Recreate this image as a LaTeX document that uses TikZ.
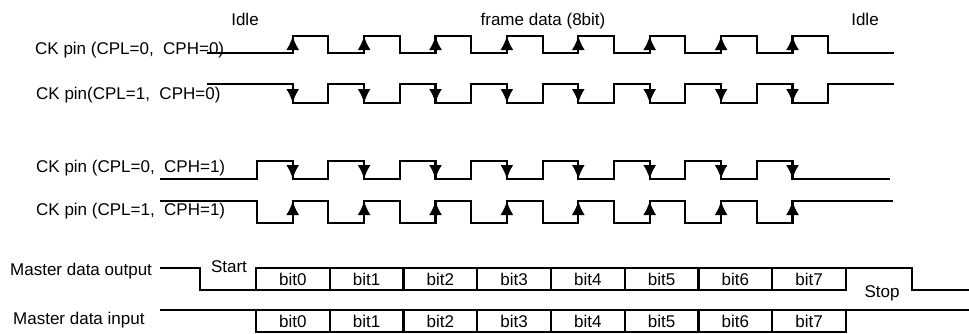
\documentclass[tikz,border=0pt]{standalone}
\usepackage{fontspec}
\setmainfont{Liberation Sans}
\usetikzlibrary{arrows.meta, math}

\tikzset{
  wave/.style={line width=2.1pt},
  edgearrow/.style={line width=2.1pt, -{Latex[length=14pt, width=13pt]}},
  bitbox/.style={draw, line width=2.1pt, minimum width=73.75pt, minimum height=22pt, inner sep=0pt, outer sep=0pt, anchor=north west},
  lbl/.style={inner sep=0pt, anchor=base west},
  ttl/.style={inner sep=0pt, anchor=base},
}

\begin{document}
\begin{tikzpicture}[x=1pt, y=-1pt, font=\fontsize{17}{20}\selectfont]
\tikzmath{
\h=35.7;
\ez=257;
\eo=\ez+\h;
\w=73.75;
}
\useasboundingbox (0,0) rectangle (969,333);

% titles
\node[ttl] (idleL) at (245,25) {Idle};
\node[ttl] (frame) at (543,25) {frame data (8bit)};
\node[ttl] (idleR) at (865,25) {Idle};

% clock labels
\node[lbl] (ckA) at (35,54) {CK pin (CPL=0,~ CPH=0)};
\node[lbl] (ckB) at (36,99) {CK pin(CPL=1,~ CPH=0)};
\node[lbl] (ckC) at (36,172) {CK pin (CPL=0,~ CPH=1)};
\node[lbl] (ckD) at (36,215) {CK pin (CPL=1,~ CPH=1)};

% CPL=0, CPH=0
\draw[wave] (207,53) \foreach \k in {0,...,7}{ -- ({\eo+2*\k*\h},53) -- ++(0,-17) -- ++(\h,0) -- ++(0,17) } -- (894,53);
\foreach \k in {0,...,7}
  \draw[edgearrow] ({\eo+2*\k*\h},53) -- ++(0,-17);

% CPL=1, CPH=0
\draw[wave] (207,84) \foreach \k in {0,...,7}{ -- ({\eo+2*\k*\h},84) -- ++(0,19) -- ++(\h,0) -- ++(0,-19) } -- (894,84);
\foreach \k in {0,...,7}
  \draw[edgearrow] ({\eo+2*\k*\h},84) -- ++(0,19);

% CPL=0, CPH=1
\draw[wave] (160,179) \foreach \k in {0,...,7}{ -- ({\ez+2*\k*\h},179) -- ++(0,-18) -- ++(\h,0) -- ++(0,18) } -- (890,179);
\foreach \k in {0,...,7}
  \draw[edgearrow] ({\ez+(2*\k+1)*\h},161) -- ++(0,18);

% CPL=1, CPH=1
\draw[wave] (160,201) \foreach \k in {0,...,7}{ -- ({\ez+2*\k*\h},201) -- ++(0,22) -- ++(\h,0) -- ++(0,-22) } -- (893,201);
\foreach \k in {0,...,7}
  \draw[edgearrow] ({\ez+(2*\k+1)*\h},223) -- ++(0,-22);

% master data
\node[lbl] (mout) at (10,275) {Master data output};
\node[lbl] (min) at (13,324) {Master data input};

\foreach \k in {0,...,7}{
  \node[bitbox] (out\k) at ({256+\w*\k},268) {bit\k};
  \node[bitbox] (in\k) at ({256+\w*\k},310) {bit\k};
}

\draw[wave] (160,268) -- (200,268) -- (200,290) -- (out0.south west);
\node[ttl] (start) at (229,272) {Start};
\draw[wave] (out7.north east) -- (912,268) -- (912,290) -- (969,290);
\node[ttl] (stop) at (882,297) {Stop};

\draw[wave] (160,310) -- (in0.north west);
\draw[wave] (in7.north east) -- (969,310);

\end{tikzpicture}
\end{document}
